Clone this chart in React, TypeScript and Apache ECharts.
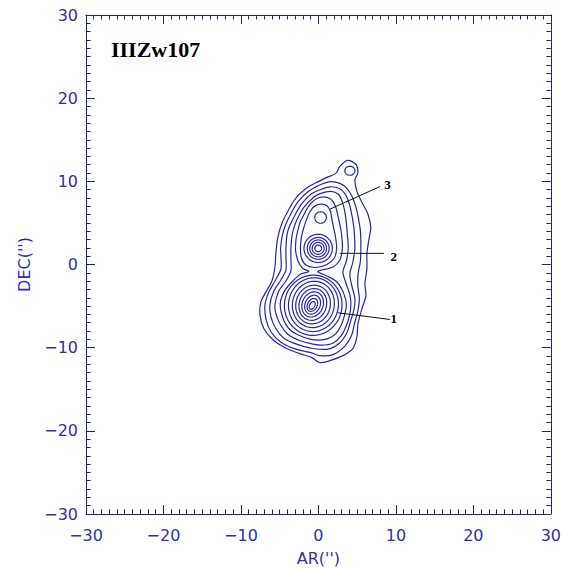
import { useEffect, useRef } from "react";
import * as echarts from "echarts";

type Pt = [number, number];
type Ell = [number, number, number, number, number]; // cx, cy, rx, ry, tilt(deg)

const AXIS_MIN = -30;
const AXIS_MAX = 30;
const AXIS_STEP = 10;
const sourceName = "IIIZw107";
const xAxisTitle = "AR('')";
const yAxisTitle = "DEC('')";

const contour1: Pt[] = [
  [3.81, 12.51], [4.84, 12.04], [5.1, 11.08], [4.71, 10.12], [4.97, 8.8], [5.61, 7.49], [6.39, 6.05], [6.77, 4.49],
  [6.52, 3.05], [6.26, 1.26], [6.26, -0.54], [6.0, -2.34], [6.13, -3.77], [5.61, -5.33], [5.1, -7.13], [4.97, -8.68],
  [4.45, -10.12], [3.16, -10.96], [1.48, -11.56], [0.19, -11.8], [-0.84, -11.2], [-2.39, -10.72], [-4.32, -10.0],
  [-5.87, -9.04], [-7.03, -7.72], [-7.55, -6.05], [-7.42, -4.49], [-6.77, -3.29], [-6.0, -1.98], [-5.61, -0.3],
  [-5.48, 1.5], [-5.23, 3.29], [-4.71, 4.97], [-3.94, 6.41], [-3.03, 7.84], [-1.74, 9.04], [-0.45, 9.76],
  [1.1, 10.48], [2.26, 10.96], [2.77, 11.8],
];
const contour2: Pt[] = [
  [-0.06, 9.46], [1.35, 9.94], [2.77, 9.76], [3.74, 9.1], [4.39, 8.08], [4.84, 6.89], [5.16, 5.57], [5.42, 4.01],
  [5.48, 2.22], [5.42, 0.42], [5.1, -1.26], [5.1, -2.69], [5.29, -4.13], [5.1, -5.57], [4.65, -7.13], [4.26, -8.56],
  [3.42, -9.82], [1.87, -10.84], [0.19, -10.96], [-0.97, -10.6], [-2.9, -10.18], [-4.84, -9.34], [-6.13, -8.08],
  [-6.77, -6.53], [-6.9, -4.85], [-6.39, -3.29], [-5.61, -1.98], [-4.84, -0.54], [-4.84, 1.02], [-4.88, 1.98],
  [-4.65, 3.53], [-4.26, 4.73], [-3.55, 6.11], [-2.65, 7.54], [-1.35, 8.74],
];
const contour3: Pt[] = [
  [0.19, 8.98], [1.48, 9.34], [2.65, 9.16], [3.48, 8.44], [4.0, 7.25], [4.32, 5.93], [4.58, 4.37], [4.71, 1.98],
  [4.45, 0.3], [4.06, -1.14], [4.32, -2.57], [4.71, -4.13], [4.58, -5.45], [4.13, -6.89], [3.68, -8.2], [2.77, -9.4],
  [1.23, -10.18], [-0.97, -10.06], [-2.65, -9.64], [-4.45, -8.86], [-5.48, -7.72], [-6.13, -6.29], [-6.26, -4.85],
  [-5.74, -3.17], [-4.84, -1.86], [-4.19, -0.66], [-4.19, 0.78], [-4.19, 1.98], [-4.06, 3.53], [-3.74, 4.61],
  [-3.1, 5.81], [-2.19, 7.25], [-0.97, 8.44],
];
const contour4: Pt[] = [
  [0.32, 8.56], [1.61, 8.8], [2.58, 8.44], [3.1, 7.49], [3.42, 6.29], [3.61, 4.97], [3.74, 3.53], [3.85, 1.98],
  [3.61, 0.42], [3.16, -0.9], [3.55, -2.22], [4.06, -3.65], [4.19, -4.85], [4.0, -6.17], [3.55, -7.49], [2.9, -8.62],
  [1.87, -9.46], [0.45, -9.7], [-0.97, -9.52], [-2.52, -9.1], [-3.94, -8.38], [-4.9, -7.25], [-5.48, -5.93],
  [-5.61, -4.85], [-5.1, -3.17], [-4.19, -1.98], [-3.55, -0.78], [-3.55, 0.66], [-3.55, 1.98], [-3.42, 3.41],
  [-3.16, 4.43], [-2.71, 5.51], [-1.81, 6.95], [-0.52, 8.14],
];
const contour5: Pt[] = [
  [0.06, 8.02], [1.1, 8.08], [1.87, 7.6], [2.32, 6.65], [2.58, 5.57], [2.84, 4.49], [3.03, 3.29], [3.1, 1.98],
  [2.77, 0.54], [1.87, -0.3], [-0.06, -0.84], [1.1, -1.38], [2.39, -2.1], [3.29, -3.53], [3.61, -4.85], [3.35, -6.17],
  [2.9, -7.37], [2.26, -8.32], [1.23, -8.92], [0.06, -9.1], [-1.1, -8.98], [-2.52, -8.5], [-3.68, -7.84],
  [-4.45, -6.77], [-4.93, -4.85], [-4.45, -3.29], [-3.42, -2.1], [-2.25, -1.15], [-1.23, -0.84], [-2.0, -0.48],
  [-2.58, 0.3], [-2.94, 1.62], [-2.9, 2.93], [-2.65, 4.13], [-2.32, 5.21], [-1.87, 5.99], [-1.42, 6.77], [-0.84, 7.49],
];
const contourNorthLobe: Pt[] = [
  [0.32, 7.25], [1.1, 7.07], [1.55, 6.41], [1.74, 5.45], [1.94, 4.49], [2.19, 3.41], [2.35, 1.98], [2.06, 0.78],
  [1.1, 0.0], [-0.32, -0.36], [-1.61, -0.06], [-2.19, 0.78], [-2.32, 1.98], [-2.19, 3.29], [-1.94, 4.25],
  [-1.61, 5.21], [-1.23, 6.11], [-0.58, 6.95],
];

// Closed elliptical rings: [centre AR, centre DEC, half-width, half-height, tilt]
const knobRing: Ell[] = [[4.06, 11.27, 0.65, 0.54, 0]];
const peak3Ring: Ell[] = [[0.28, 5.65, 0.75, 0.69, 0]];
const peak2Rings: Ell[] = [
  [-0.03, 1.94, 0.43, 0.4, 0],
  [-0.03, 1.94, 0.77, 0.72, 0],
  [-0.03, 1.94, 1.08, 1.01, 0],
  [-0.03, 1.94, 1.41, 1.31, 0],
  [-0.03, 1.94, 1.83, 1.7, 0],
];
const peak1Rings: Ell[] = [
  [-0.8, -4.92, 0.33, 0.5, 30],
  [-0.78, -4.86, 0.62, 0.82, 28],
  [-0.75, -4.83, 0.97, 1.18, 25],
  [-0.74, -4.8, 1.35, 1.55, 22],
  [-0.72, -4.8, 1.76, 1.94, 18],
  [-0.69, -4.81, 2.22, 2.34, 15],
  [-0.65, -4.8, 2.7, 2.8, 12],
  [-0.64, -4.83, 3.22, 3.24, 10],
  [-0.67, -4.9, 3.72, 3.62, 8],
];

const componentLabels = ["1", "2", "3"];
const leaderStart: Pt[] = [[2.52, -5.81], [2.77, 1.34], [1.48, 6.65]];
const leaderEnd: Pt[] = [[9.23, -6.61], [8.45, 1.34], [7.94, 9.37]];
const labelAt: Pt[] = [[9.74, -6.53], [9.74, 0.98], [8.93, 9.64]];

const AXIS_COLOR = "#1e1e96";
const LABEL_COLOR = "#2f2fa8";
const CONTOUR_COLOR = "#2626aa";
const SANS = '"DejaVu Sans", sans-serif';

const fmt = (v: number) => (v < 0 ? "\u2212" + Math.abs(v) : String(v));

function axis(position: string, showLabel: boolean, isX: boolean) {
  return {
    type: "value",
    position,
    min: AXIS_MIN,
    max: AXIS_MAX,
    interval: AXIS_STEP,
    axisLine: { show: true, onZero: false, lineStyle: { color: AXIS_COLOR, width: 1 } },
    axisTick: { show: true, inside: true, length: 9, lineStyle: { color: AXIS_COLOR, width: 1 } },
    minorTick: { show: true, splitNumber: 10, length: 4.5, lineStyle: { color: AXIS_COLOR, width: 1 } },
    splitLine: { show: false },
    minorSplitLine: { show: false },
    axisLabel: {
      show: showLabel,
      color: LABEL_COLOR,
      fontSize: 16,
      fontFamily: SANS,
      margin: isX ? 13 : 8,
      formatter: fmt,
    },
    ...(showLabel
      ? {
          name: isX ? xAxisTitle : yAxisTitle,
          nameLocation: "middle",
          nameGap: isX ? 36 : 54,
          nameTextStyle: { color: LABEL_COLOR, fontSize: 16, fontFamily: SANS },
        }
      : {}),
  };
}

export default function App() {
  const ref = useRef<HTMLDivElement>(null);
  useEffect(() => {
    if (!ref.current) return;
    const chart = echarts.init(ref.current, null, { renderer: "svg" });
    const rings: any[] = [
      ...[contour1, contour2, contour3, contour4, contour5, contourNorthLobe].map((pts) => ({ kind: "poly", pts })),
      ...[...knobRing, ...peak3Ring, ...peak2Rings, ...peak1Rings].map((e) => ({ kind: "ell", e })),
    ];
    const option: any = {
      animation: false,
      backgroundColor: "#ffffff",
      grid: { left: 86, top: 15, width: 465, height: 501 },
      xAxis: [axis("bottom", true, true), axis("top", false, true)],
      yAxis: [axis("left", true, false), axis("right", false, false)],
      graphic: [
        {
          type: "text",
          left: 111,
          top: 38,
          style: { text: sourceName, fill: "#000", font: 'bold 22px "Liberation Serif", serif' },
        },
      ],
      series: [
        {
          type: "custom",
          coordinateSystem: "cartesian2d",
          data: rings.map(() => [0, 0]),
          silent: true,
          renderItem: (params: any, api: any) => {
            const ring = rings[params.dataIndex];
            let points: number[][] = [];
            let smooth = 0;
            if (ring.kind === "poly") {
              points = ring.pts.map((p: Pt) => api.coord(p));
              smooth = 0.3;
            } else {
              const [cx, cy, rx, ry, tilt] = ring.e as Ell;
              const c = api.coord([cx, cy]);
              const s = api.size([rx, ry]);
              const phi = (tilt * Math.PI) / 180;
              const mx = Math.cos(phi), my = Math.sin(phi);
              const Mx = Math.sin(phi), My = -Math.cos(phi);
              const n = 72;
              for (let k = 0; k < n; k++) {
                const t = (k / n) * Math.PI * 2;
                const a = s[0] * Math.cos(t);
                const b = s[1] * Math.sin(t);
                points.push([c[0] + a * mx + b * Mx, c[1] + a * my + b * My]);
              }
            }
            return {
              type: "polygon",
              shape: { points, smooth },
              style: { fill: "none", stroke: CONTOUR_COLOR, lineWidth: 1.2 },
            };
          },
        },
        {
          type: "custom",
          coordinateSystem: "cartesian2d",
          silent: true,
          data: componentLabels.map((_, i) => [
            leaderStart[i][0], leaderStart[i][1], leaderEnd[i][0], leaderEnd[i][1], labelAt[i][0], labelAt[i][1],
          ]),
          encode: { x: [0, 2, 4], y: [1, 3, 5] },
          renderItem: (params: any, api: any) => {
            const p1 = api.coord([api.value(0), api.value(1)]);
            const p2 = api.coord([api.value(2), api.value(3)]);
            const pl = api.coord([api.value(4), api.value(5)]);
            return {
              type: "group",
              children: [
                {
                  type: "line",
                  shape: { x1: p1[0], y1: p1[1], x2: p2[0], y2: p2[1] },
                  style: { stroke: "#111", lineWidth: 1 },
                },
                {
                  type: "text",
                  x: pl[0],
                  y: pl[1],
                  style: {
                    text: componentLabels[params.dataIndex],
                    fill: "#000",
                    font: 'bold 13px "Liberation Serif", serif',
                    align: "center",
                    verticalAlign: "middle",
                    textAlign: "center",
                    textVerticalAlign: "middle",
                  },
                },
              ],
            };
          },
        },
      ],
    };
    chart.setOption(option);
    return () => chart.dispose();
  }, []);
  return (
    <div
      ref={ref}
      style={{ position: "fixed", left: 0, top: 0, width: 564, height: 571, background: "#fff" }}
    />
  );
}
